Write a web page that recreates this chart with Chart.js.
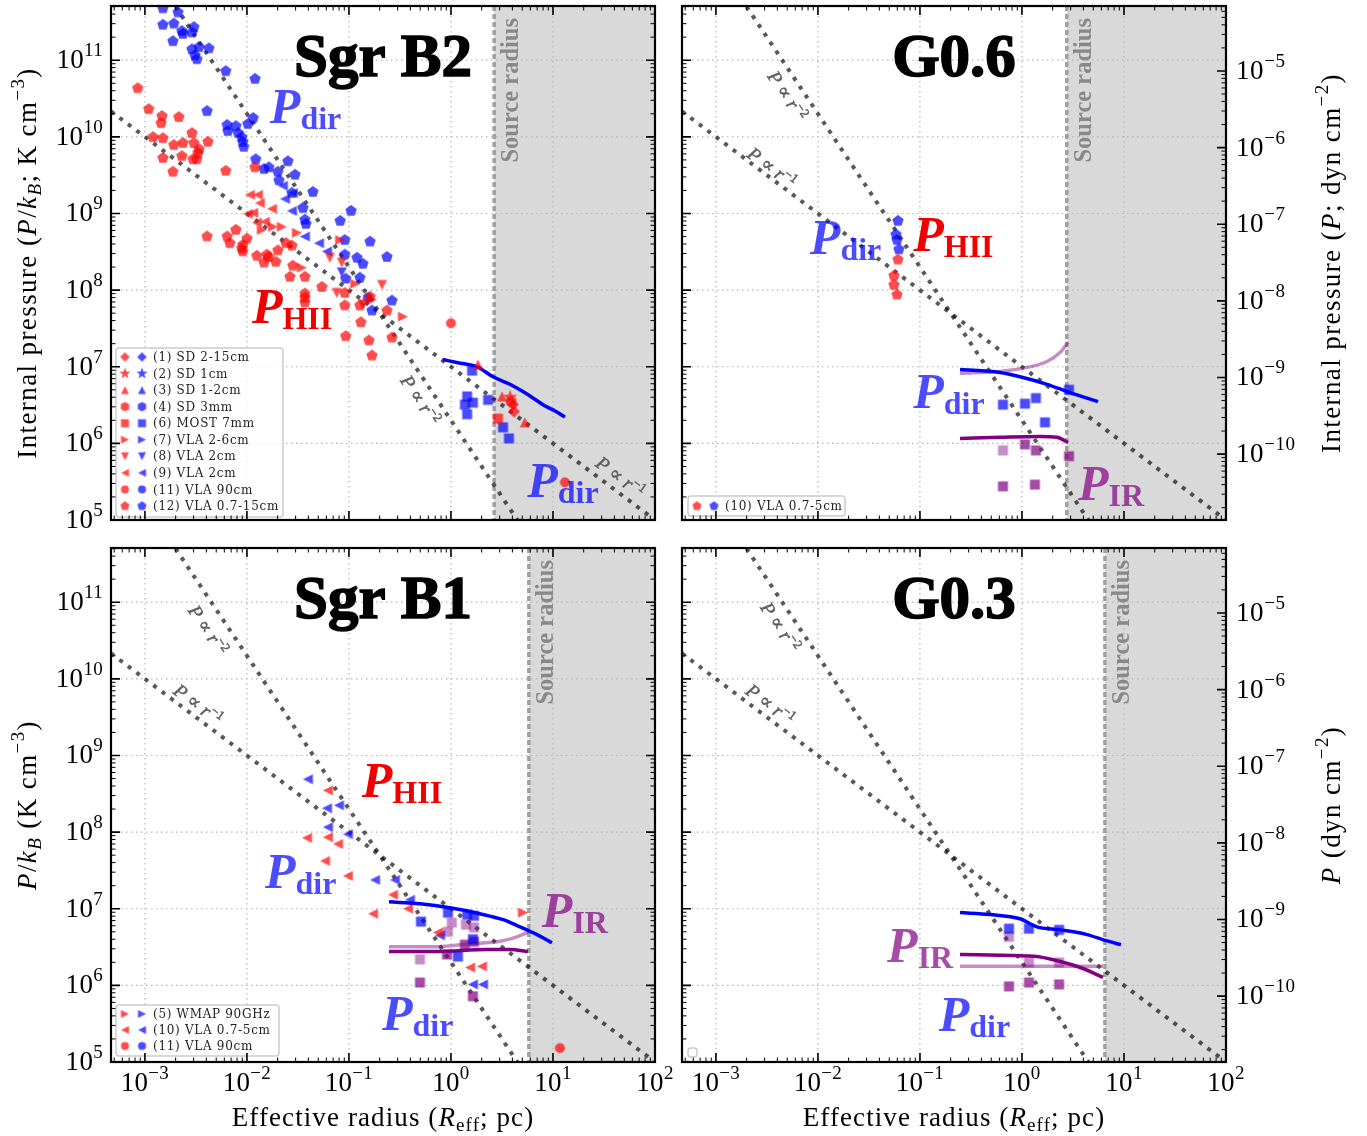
<!DOCTYPE html>
<html>
<head>
<meta charset="utf-8">
<script src="https://cdn.jsdelivr.net/npm/chart.js@4.4.1/dist/chart.umd.min.js"></script>
<style>
  html, body { margin: 0; padding: 0; background: #fff; }
  #wrap { position: relative; width: 1367px; height: 1136px; }
  #wrap canvas { position: absolute; left: 0; top: 0; }
</style>
</head>
<body>
<div id="wrap">
  <canvas id="cB2" width="1367" height="1136"></canvas>
  <canvas id="cG06" width="1367" height="1136"></canvas>
  <canvas id="cB1" width="1367" height="1136"></canvas>
  <canvas id="cG03" width="1367" height="1136"></canvas>
</div>
<script>
// === axis ranges (same for all four panels)
const X_MIN = 4.65e-4, X_MAX = 100;
const Y_MIN = 1e5, Y_MAX = 5.1e11;
const KB = 1.380649e-16;            // P = kB * (P/kB), right-hand axis

// reference power laws, read at the plot edges
const refR = [4.65e-4, 100];
const refP1 = [2.15e10, 1e5];       // P ∝ r^-1
const refP2 = [9.25e12, 200];       // P ∝ r^-2

// source radii (pc)
const srcB2 = 2.65, srcG06 = 2.75, srcB1 = 5.8, srcG03 = 6.5;

// === Sgr B2 : P_HII (red) by survey, [r (pc), P/kB]
const b2HiiVla0715 = [
  [8.5e-4,4.3e10],[1.09e-3,2.3e10],[1.47e-3,1.87e10],[1.44e-3,1.51e10],[2.15e-3,1.81e10],
  [1.2e-3,9.9e9],[1.5e-3,9.6e9],[2.89e-3,1.12e10],[1.92e-3,7.8e9],[2.36e-3,8.3e9],
  [3.02e-3,8.3e9],[3.39e-3,6.9e9],[3.31e-3,6.2e9],[4.15e-3,8.6e9],[1.5e-3,5.3e9],
  [2.3e-3,5.6e9],[2.96e-3,5.1e9],[3.23e-3,5.1e9],[1.88e-3,3.5e9],[6.2e-3,3.6e9],
  [1.2e-2,4.0e9],[4.06e-3,5.0e8],[6.4e-3,5.0e8],[7.8e-3,6.1e8],[6.8e-3,4.1e8],
  [9.1e-3,3.9e8],[8.9e-3,3.5e8],[1.0e-2,4.7e8],[1.25e-2,2.8e8],[1.57e-2,2.9e8],
  [2.01e-2,3.3e8],[2.76e-2,3.8e8],[2.41e-2,4.1e8],[9.1e-3,3.2e8],[1.64e-2,2.7e8],
  [1.47e-2,2.28e8],[1.92e-2,2.34e8],[2.82e-2,2.08e8],[2.64e-2,1.49e8],[3.7e-2,1.49e8],
  [5.43e-2,1.1e8],[3.7e-2,9.0e7],[3.7e-2,8.0e7],[3.7e-2,6.9e7],[9.1e-2,9.2e7],
  [9.1e-2,6.3e7],[0.128,6.3e7],[0.236,5.4e7],[0.131,3.8e7],[9.3e-2,2.5e7],
  [0.157,2.2e7],[0.264,2.4e7],[0.168,1.4e7],[0.161,8.2e7]
];
const b2HiiVla2cmL = [[1.07e-2,1.75e9],[1.28e-2,1.75e9],[1.34e-2,1.37e9],[1.02e-2,9.9e8],
  [1.15e-2,1.02e9],[1.76e-2,1.15e9],[1.25e-2,7.6e8],[1.5e-2,7.8e8]];
const b2HiiVla26 = [[1.4e-2,6.1e8],[1.8e-2,6.7e8],[2.2e-2,6.7e8],[3.09e-2,5.6e8],[8.2e-2,4.5e8],
  [3.46e-2,1.96e8],[0.115,1.21e8],[0.338,4.5e7],[0.168,7.5e7]];
const b2HiiVla2cmD = [[6.5e-2,2.64e8],[8.5e-2,2.28e8],[7.6e-2,9.2e7],[0.211,1.17e8],[0.137,6.5e7]];
const b2HiiVla90 = [[1.0,3.7e7],[13.1,3.1e5]];
const b2HiiSd12 = [[1.84,1.07e7],[3.16,4.1e6],[5.3,1.88e6]];
const b2HiiSd1 = [[3.8,4.0e6]];
const b2HiiSd215 = [[4.05,3.2e6],[4.15,2.6e6]];
const b2HiiSd3mm = [[3.9,3.5e6]];
const b2HiiMost = [[2.89,2.1e6]];

// === Sgr B2 : P_dir (blue)
const b2DirVla0715 = [
  [1.5e-3,4.75e11],[2.11e-3,4.2e11],[1.5e-3,2.9e11],[1.92e-3,3.0e11],[2.3e-3,2.4e11],
  [2.36e-3,2.2e11],[2.89e-3,2.3e11],[3.02e-3,2.7e11],[1.88e-3,1.77e11],[2.89e-3,1.39e11],
  [3.39e-3,1.48e11],[4.24e-3,1.43e11],[3.09e-3,1.16e11],[3.23e-3,1.03e11],[6.2e-3,7.2e10],
  [1.2e-2,5.7e10],[4.06e-3,2.17e10],[6.4e-3,1.43e10],[6.5e-3,1.19e10],[7.8e-3,1.38e10],
  [8.2e-3,1.12e10],[8.9e-3,9.9e9],[9.1e-3,8.6e9],[9.3e-3,7.4e9],[1.02e-2,1.47e10],
  [1.15e-2,1.76e10],[1.22e-2,5.1e9],[1.47e-2,3.8e9],[1.64e-2,4.0e9],[2.01e-2,3.5e9],
  [2.52e-2,4.8e9],[2.96e-2,3.2e9],[2.06e-2,2.7e9],[2.76e-2,1.85e9],[4.43e-2,1.91e9],
  [3.54e-2,1.18e9],[3.7e-2,8.3e8],[3.79e-2,7.3e8],[0.105,1.08e9],[8.2e-2,8.0e8],
  [9.1e-2,4.5e8],[0.12,2.64e8],[0.161,4.3e8],[0.236,2.7e8],[9.1e-2,2.9e8],
  [0.137,2.2e8],[9.3e-2,1.41e8],[0.128,1.45e8],[0.264,7.3e7],[0.168,5.4e7]
];
const b2DirVla2cmL = [[2.25e-2,2.3e9],[2.36e-2,1.55e9],[2.82e-2,1.85e9],[2.76e-2,1.08e9],
  [3.7e-2,5.0e8],[5.08e-2,4.1e8],[6.09e-2,3.2e8]];
const b2DirVla2cmD = [[8.5e-2,1.7e8]];
const b2DirVla90 = [[0.153,8.0e7]];
const b2DirMost = [[1.61,8.9e6],[1.44,4.1e6],[1.37,3.2e6],[1.64,3.4e6],[1.44,2.4e6],
  [2.31,3.7e6],[3.24,1.62e6],[3.7,1.16e6]];
const b2ModelR = [0.835, 1.17, 1.8, 2.58, 3.79, 5.56, 7.98, 10.7, 13.1];
const b2ModelDir = [1.24e7, 1.13e7, 1.0e7, 7.4e6, 5.9e6, 4.4e6, 3.2e6, 2.6e6, 2.2e6];

// === G0.6
const g06Hii = [[0.0609,2.5e8],[0.0556,1.54e8],[0.0556,1.17e8],[0.0596,8.7e7]];
const g06Dir = [[0.0609,8.0e8],[0.0582,5.3e8],[0.0596,4.5e8],[0.0622,3.4e8]];
const g06DirSq = [[0.651,3.2e6],[1.07,3.3e6],[1.37,3.9e6],[1.68,1.88e6],[2.89,5.0e6]];
const g06IrSq = [[1.07,9.7e5],[1.37,8.1e5],[2.89,6.8e5],[0.651,2.75e5],[1.34,2.9e5]];
const g06IrSqLight = [[0.651,8.1e5]];
const g06DirR = [0.247, 0.608, 0.955, 1.76, 2.96, 5.56];
const g06DirP = [9.2e6, 8.4e6, 7.4e6, 5.9e6, 4.6e6, 3.5e6];
const g06IrLightR = [0.247, 0.608, 1.12, 1.76, 2.36, 2.83];
const g06IrLightP = [8.2e6, 8.7e6, 9.8e6, 1.17e7, 1.53e7, 2.07e7];
const g06IrR = [0.247, 0.608, 1.5, 2.2, 2.83];
const g06IrP = [1.16e6, 1.2e6, 1.23e6, 1.2e6, 1.03e6];

// === Sgr B1
const b1HiiVla = [[0.0622,3.5e8],[0.0388,8.4e7],[0.0622,8.6e7],[0.078,7.0e7],[0.0582,4.2e7],
  [0.0977,2.68e7],[0.27,1.52e7],[0.172,8.6e6],[0.379,1.0e7],[0.746,4.9e6],[1.54,1.71e6],[2.01,1.77e6]];
const b1DirVla = [[0.0396,4.9e8],[0.0609,2.05e8],[0.0798,2.24e8],[0.0622,1.16e8],[0.0977,9.4e7],
  [0.18,2.38e7],[0.282,2.38e7],[0.396,1.31e7],[0.78,4.5e6],[1.64,1.03e6],[2.06,1.03e6]];
const b1HiiWmap = [[5.08,8.9e6]];
const b1HiiVla90 = [[11.7,1.52e5]];
const b1DirSq = [[0.508,6.8e6],[0.935,8.9e6],[1.44,8.4e6],[1.68,8.1e6],[1.17,2.38e6],[1.64,4.0e6]];
const b1IrSqLight = [[1.02,6.6e6],[0.935,5.0e6],[1.4,6.2e6],[0.497,2.18e6],[1.68,5.7e6]];
const b1IrSq = [[1.68,3.7e6],[0.914,2.53e6],[1.37,3.4e6],[0.497,1.09e6],[1.64,7.2e5]];
const b1DirR = [0.247, 0.497, 0.978, 1.92, 3.24, 4.75, 6.97, 9.77];
const b1DirP = [1.23e7, 1.16e7, 1.03e7, 8.6e6, 7.2e6, 5.8e6, 4.6e6, 3.6e6];
const b1IrLightR = [0.247, 0.73, 1.54, 2.83, 4.43, 5.69];
const b1IrLightP = [3.2e6, 3.2e6, 3.5e6, 3.7e6, 4.3e6, 4.9e6];
const b1IrR = [0.247, 0.73, 2.25, 3.79, 5.69];
const b1IrP = [2.77e6, 2.77e6, 2.94e6, 2.94e6, 2.77e6];

// === G0.3
const g03DirSq = [[0.746,5.5e6],[1.17,5.5e6],[2.31,5.3e6]];
const g03IrSqLight = [[0.746,4.3e6],[1.17,1.99e6],[2.31,1.99e6]];
const g03IrSq = [[0.746,9.7e5],[1.17,1.09e6],[2.31,1.03e6]];
const g03DirR = [0.247, 0.485, 0.955, 1.4, 2.36, 4.34, 6.81, 9.35];
const g03DirP = [8.9e6, 8.4e6, 7.4e6, 5.8e6, 5.3e6, 4.6e6, 3.8e6, 3.4e6];
const g03IrR = [0.247, 0.817, 1.4, 2.36, 3.96, 6.22];
const g03IrP = [2.53e6, 2.45e6, 2.38e6, 2.05e6, 1.66e6, 1.27e6];
const g03IrLightR = [0.247, 6.22];
const g03IrLightP = [1.77e6, 1.77e6];

// === styles
const SERIF = '"Liberation Serif", "DejaVu Serif", serif';
const RED = 'rgba(255,0,0,0.7)', BLUE = 'rgba(0,0,255,0.7)';
const PURPLE = 'rgba(128,0,128,0.7)', LPURPLE = 'rgba(128,0,128,0.45)';
const MSIZE = { pentagon: 6, hexagon: 6, star: 7.5, diamond: 6, square: 5, circle: 5,
  'tri-up': 5, 'tri-down': 5, 'tri-left': 5, 'tri-right': 5 };
const AX = 27, AXS = 19;            // axis text and its sub/superscripts

function makeMarker(shape, color, r) {
  const s = Math.ceil(r * 2.6 + 4);
  const c = document.createElement('canvas');
  c.width = c.height = s;
  const g = c.getContext('2d');
  g.translate(s / 2, s / 2);
  g.fillStyle = color;
  g.beginPath();
  if (shape === 'circle') g.arc(0, 0, r, 0, Math.PI * 2);
  else if (shape === 'square') g.rect(-r, -r, 2 * r, 2 * r);
  else if (shape === 'diamond') { g.moveTo(0, -r); g.lineTo(r, 0); g.lineTo(0, r); g.lineTo(-r, 0); }
  else if (shape.startsWith('tri')) {
    const pts = { up: [[0,-1],[-1,1],[1,1]], down: [[0,1],[-1,-1],[1,-1]],
      left: [[-1,0],[1,-1],[1,1]], right: [[1,0],[-1,-1],[-1,1]] }[shape.slice(4)];
    pts.forEach(([px, py], i) => i ? g.lineTo(px * r, py * r) : g.moveTo(px * r, py * r));
  } else if (shape === 'star') {
    for (let i = 0; i < 10; i++) {
      const a = -Math.PI / 2 + i * Math.PI / 5, rr = i % 2 ? r * 0.4 : r;
      g.lineTo(rr * Math.cos(a), rr * Math.sin(a));
    }
  } else {
    const n = shape === 'pentagon' ? 5 : 6;
    for (let i = 0; i < n; i++) {
      const a = -Math.PI / 2 + i * 2 * Math.PI / n;
      g.lineTo(r * Math.cos(a), r * Math.sin(a));
    }
  }
  g.closePath();
  g.fill();
  return c;
}

const toXY = list => list.map(([r, p]) => ({ x: r, y: p }));
const zipXY = (rs, ps) => rs.map((r, i) => ({ x: r, y: ps[i] }));

function pointsSet(list, shape, color) {
  return { data: toXY(list), pointStyle: makeMarker(shape, color, MSIZE[shape]),
    pointRadius: 5, showLine: false, order: 0 };
}
function curveSet(rs, ps, color) {
  return { data: zipXY(rs, ps), showLine: true, borderColor: color, borderWidth: 3.5,
    pointRadius: 0, cubicInterpolationMode: 'monotone', order: 1 };
}
function refSets() {
  return [refP1, refP2].map(ps => ({ data: zipXY(refR, ps), showLine: true,
    borderColor: 'rgba(0,0,0,0.65)', borderWidth: 4, borderDash: [4, 6.6], borderCapStyle: 'butt',
    pointRadius: 0, order: 2 }));
}

// === text helpers
function font(style, size) { return (style ? style + ' ' : '') + size + 'px ' + SERIF; }
function drawRuns(ctx, runs, x, y, align, spacing) {
  ctx.letterSpacing = (spacing || 0) + 'px';
  let w = 0;
  runs.forEach(r => { ctx.font = font(r[1], r[2]); w += ctx.measureText(r[0]).width; });
  let cx = align === 'center' ? x - w / 2 : align === 'right' ? x - w : x;
  ctx.textAlign = 'left';
  ctx.textBaseline = 'alphabetic';
  runs.forEach(r => {
    ctx.font = font(r[1], r[2]);
    ctx.fillText(r[0], cx, y + (r[3] || 0));
    if (ctx.lineWidth > 0 && r[4]) ctx.strokeText(r[0], cx, y + (r[3] || 0));
    cx += ctx.measureText(r[0]).width;
  });
  ctx.letterSpacing = '0px';
}
const expStr = e => e < 0 ? '\u2212' + (-e) : String(e);
const tenRuns = e => [['10', '', AX, 0], [expStr(e), '', AXS, -12]];

function logTicks(min, max) {
  const major = [], minor = [];
  for (let e = Math.floor(Math.log10(min)); e <= Math.ceil(Math.log10(max)); e++) {
    for (let k = 1; k < 10; k++) {
      const v = k * Math.pow(10, e);
      if (v < min * 0.9999 || v > max * 1.0001) continue;
      (k === 1 ? major : minor).push(v);
    }
  }
  return { major, minor };
}

const P_LABEL = {
  dir: { color: BLUE, sub: 'dir' },
  HII: { color: 'rgb(240,0,0)', sub: 'HII' },
  IR: { color: PURPLE, sub: 'IR' }
};

const xTitle = [['Effective radius (', '', AX, 0], ['R', 'italic', AX, 0], ['eff', '', AXS, 5], ['; pc)', '', AX, 0]];

function makeDecor(p) {
  return {
    id: 'decor',
    beforeDatasetsDraw(chart) {
      const { ctx, chartArea: a, scales: { x, y } } = chart;
      const xs = x.getPixelForValue(p.srcR);
      ctx.save();
      ctx.fillStyle = '#d9d9d9';
      ctx.fillRect(xs, a.top, a.right - xs, a.bottom - a.top);

      // dotted grid at the decades
      ctx.strokeStyle = '#b5b5b5';
      ctx.lineWidth = 1.2;
      ctx.setLineDash([1.5, 3.5]);
      ctx.beginPath();
      logTicks(X_MIN, X_MAX).major.forEach(v => {
        const px = x.getPixelForValue(v);
        if (px > a.left + 2 && px < a.right - 2) { ctx.moveTo(px, a.top); ctx.lineTo(px, a.bottom); }
      });
      logTicks(Y_MIN, Y_MAX).major.forEach(v => {
        const py = y.getPixelForValue(v);
        if (py > a.top + 2 && py < a.bottom - 2) { ctx.moveTo(a.left, py); ctx.lineTo(a.right, py); }
      });
      ctx.stroke();

      // source radius
      ctx.setLineDash([5, 3]);
      ctx.strokeStyle = '#a0a0a0';
      ctx.lineWidth = 3.5;
      ctx.beginPath();
      ctx.moveTo(xs, a.top);
      ctx.lineTo(xs, a.bottom);
      ctx.stroke();
      ctx.setLineDash([]);
      ctx.fillStyle = '#888';
      ctx.translate(xs + 24, a.top + 12);
      ctx.rotate(-Math.PI / 2);
      ctx.lineWidth = 0;
      drawRuns(ctx, [['Source radius', 'bold', 24.5, 0]], 0, 0, 'right');
      ctx.restore();
    },
    afterDatasetsDraw(chart) {
      const { ctx, chartArea: a, scales: { x, y, y2 } } = chart;
      const W = a.right - a.left, H = a.bottom - a.top;
      const fx = f => a.left + f * W, fy = f => a.top + f * H;
      ctx.save();

      // P ∝ r^-n labels along the guide lines
      p.refLab.forEach(([n, u, v]) => {
        const ps = n === 1 ? refP1 : refP2;
        const ang = Math.atan2(y.getPixelForValue(ps[1]) - y.getPixelForValue(ps[0]),
          x.getPixelForValue(refR[1]) - x.getPixelForValue(refR[0]));
        ctx.save();
        ctx.translate(fx(u), fy(v));
        ctx.rotate(ang);
        ctx.fillStyle = '#5e5e5e';
        ctx.strokeStyle = '#5e5e5e';
        ctx.lineWidth = 0.5;
        drawRuns(ctx, [['P', 'italic', 19, 0, 1], [' \u221D ', '', 19, 0, 1], ['r', 'italic', 19, 0, 1],
          ['\u2212' + n, '', 13, -7, 1]], 0, 6, 'center');
        ctx.restore();
      });

      // big P labels
      ctx.lineWidth = 0;
      p.labels.forEach(([k, u, v]) => {
        ctx.fillStyle = P_LABEL[k].color;
        drawRuns(ctx, [['P', 'bold italic', 50, 0], [P_LABEL[k].sub, 'bold', 32, 6]], fx(u), fy(v), 'left');
      });

      // title (a thin stroke makes it as heavy as the original)
      ctx.fillStyle = '#000';
      ctx.strokeStyle = '#000';
      ctx.lineWidth = 1.6;
      drawRuns(ctx, [[p.title, 'bold', 61, 0, 1]], fx(0.5), a.top + 70, 'center');

      // legend
      if (p.legend) {
        const L = p.legend, x0 = a.left + L.dx, y0 = a.top + L.dy;
        ctx.fillStyle = 'rgba(255,255,255,0.8)';
        ctx.strokeStyle = '#cccccc';
        ctx.lineWidth = 1.5;
        ctx.beginPath();
        ctx.roundRect(x0, y0, L.w, L.h, 3);
        ctx.fill();
        ctx.stroke();
        L.rows.forEach(([txt, shape], i) => {
          const cy = y0 + L.first + i * L.step;
          [[RED, 9], [BLUE, 26]].forEach(([col, dx]) => {
            const m = makeMarker(shape, col, MSIZE[shape] * 0.8);
            ctx.drawImage(m, x0 + dx - m.width / 2, cy - m.height / 2);
          });
          ctx.fillStyle = '#222';
          ctx.font = '12px "DejaVu Serif", serif';
          ctx.letterSpacing = '0.7px';
          ctx.textAlign = 'left';
          ctx.textBaseline = 'middle';
          ctx.fillText(txt, x0 + 37, cy + 1);
          ctx.letterSpacing = '0px';
        });
      }

      // ticks (inward, all four sides) and frame
      ctx.strokeStyle = '#000';
      const xt = logTicks(X_MIN, X_MAX), yt = logTicks(Y_MIN, Y_MAX);
      const y2t = logTicks(Y_MIN * KB, Y_MAX * KB);
      const tick = (vals, len, lw) => {
        ctx.lineWidth = lw;
        ctx.beginPath();
        vals.x.forEach(v => {
          const px = x.getPixelForValue(v);
          ctx.moveTo(px, a.bottom); ctx.lineTo(px, a.bottom - len);
          ctx.moveTo(px, a.top); ctx.lineTo(px, a.top + len);
        });
        vals.yl.forEach(v => { const py = y.getPixelForValue(v); ctx.moveTo(a.left, py); ctx.lineTo(a.left + len, py); });
        vals.yr.forEach(v => {
          const py = p.yRight ? y2.getPixelForValue(v) : y.getPixelForValue(v);
          ctx.moveTo(a.right, py); ctx.lineTo(a.right - len, py);
        });
        ctx.stroke();
      };
      tick({ x: xt.major, yl: yt.major, yr: p.yRight ? y2t.major : yt.major }, 9, 1.6);
      tick({ x: xt.minor, yl: yt.minor, yr: p.yRight ? y2t.minor : yt.minor }, 4.5, 1);
      ctx.lineWidth = 2.2;
      ctx.strokeRect(a.left, a.top, W, H);

      // tick labels
      ctx.fillStyle = '#000';
      ctx.lineWidth = 0;
      if (p.xLabels) xt.major.forEach(v => drawRuns(ctx, tenRuns(Math.round(Math.log10(v))), x.getPixelForValue(v), a.bottom + 29, 'center', 0.3));
      if (p.yLeft) yt.major.forEach(v => drawRuns(ctx, tenRuns(Math.round(Math.log10(v))), a.left - 8, y.getPixelForValue(v) + 8, 'right', 0.3));
      if (p.yRight) y2t.major.forEach(v => drawRuns(ctx, tenRuns(Math.round(Math.log10(v))), a.right + 10, y2.getPixelForValue(v) + 8, 'left', 0.6));

      // axis titles
      if (p.xLabels) drawRuns(ctx, xTitle, fx(0.5), a.bottom + 64, 'center', 1.1);
      if (p.yTitle) {
        ctx.save();
        ctx.translate(p.yRight ? a.right + 114 : 36, fy(0.5));
        ctx.rotate(-Math.PI / 2);
        drawRuns(ctx, p.yTitle, 0, 0, 'center', 1.4);
        ctx.restore();
      }
      ctx.restore();
    }
  };
}

const legendB2 = { dx: 5, dy: 342, w: 167, h: 169, first: 9, step: 16.55, rows: [
  ['(1) SD 2-15cm', 'diamond'], ['(2) SD 1cm', 'star'], ['(3) SD 1-2cm', 'tri-up'],
  ['(4) SD 3mm', 'hexagon'], ['(6) MOST 7mm', 'square'], ['(7) VLA 2-6cm', 'tri-right'],
  ['(8) VLA 2cm', 'tri-down'], ['(9) VLA 2cm', 'tri-left'], ['(11) VLA 90cm', 'circle'],
  ['(12) VLA 0.7-15cm', 'pentagon']] };
const legendG06 = { dx: 6, dy: 490, w: 157, h: 20, first: 10, step: 16, rows: [['(10) VLA 0.7-5cm', 'pentagon']] };
const legendB1 = { dx: 5, dy: 457, w: 163, h: 51, first: 9, step: 16, rows: [
  ['(5) WMAP 90GHz', 'tri-right'], ['(10) VLA 0.7-5cm', 'tri-left'], ['(11) VLA 90cm', 'circle']] };
const legendG03 = { dx: 6, dy: 500, w: 9, h: 9, first: 0, step: 0, rows: [] };

const panels = [
  {
    id: 'cB2', pad: { left: 111, top: 5, right: 712, bottom: 616 }, title: 'Sgr B2', srcR: srcB2,
    sets: [
      pointsSet(b2HiiVla0715, 'pentagon', RED), pointsSet(b2HiiVla2cmL, 'tri-left', RED),
      pointsSet(b2HiiVla26, 'tri-right', RED), pointsSet(b2HiiVla2cmD, 'tri-down', RED),
      pointsSet(b2HiiVla90, 'circle', RED), pointsSet(b2HiiSd12, 'tri-up', RED),
      pointsSet(b2HiiSd1, 'star', RED), pointsSet(b2HiiSd215, 'diamond', RED),
      pointsSet(b2HiiSd3mm, 'hexagon', RED), pointsSet(b2HiiMost, 'square', RED),
      pointsSet(b2DirVla0715, 'pentagon', BLUE), pointsSet(b2DirVla2cmL, 'tri-left', BLUE),
      pointsSet(b2DirVla2cmD, 'tri-down', BLUE), pointsSet(b2DirVla90, 'circle', BLUE),
      pointsSet(b2DirMost, 'square', BLUE),
      curveSet(b2ModelR, b2ModelDir, '#0000ff')
    ],
    labels: [['dir', 0.292, 0.227], ['HII', 0.259, 0.617], ['dir', 0.765, 0.955]],
    refLab: [[2, 0.568, 0.767], [1, 0.936, 0.917]],
    legend: legendB2, xLabels: false, yLeft: true, yRight: false,
    yTitle: [['Internal pressure (', '', AX, 0], ['P', 'italic', AX, 0], ['/', '', AX, 0], ['k', 'italic', AX, 0],
      ['B', 'italic', AXS, 5], ['; K cm', '', AX, 0], ['\u22123', '', AXS, -12], [')', '', AX, 0]]
  },
  {
    id: 'cG06', pad: { left: 682, top: 5, right: 141, bottom: 616 }, title: 'G0.6', srcR: srcG06,
    sets: [
      pointsSet(g06Hii, 'pentagon', RED), pointsSet(g06Dir, 'pentagon', BLUE),
      pointsSet(g06DirSq, 'square', BLUE), pointsSet(g06IrSq, 'square', PURPLE),
      pointsSet(g06IrSqLight, 'square', LPURPLE),
      curveSet(g06DirR, g06DirP, '#0000ff'), curveSet(g06IrLightR, g06IrLightP, LPURPLE),
      curveSet(g06IrR, g06IrP, '#800080')
    ],
    labels: [['dir', 0.235, 0.482], ['HII', 0.425, 0.476], ['dir', 0.425, 0.783], ['IR', 0.728, 0.961]],
    refLab: [[2, 0.193, 0.175], [1, 0.165, 0.315]],
    legend: legendG06, xLabels: false, yLeft: false, yRight: true,
    yTitle: [['Internal pressure (', '', AX, 0], ['P', 'italic', AX, 0], ['; dyn cm', '', AX, 0],
      ['\u22122', '', AXS, -12], [')', '', AX, 0]]
  },
  {
    id: 'cB1', pad: { left: 111, top: 548, right: 712, bottom: 74 }, title: 'Sgr B1', srcR: srcB1,
    sets: [
      pointsSet(b1HiiVla, 'tri-left', RED), pointsSet(b1DirVla, 'tri-left', BLUE),
      pointsSet(b1HiiWmap, 'tri-right', RED), pointsSet(b1HiiVla90, 'circle', RED),
      pointsSet(b1DirSq, 'square', BLUE), pointsSet(b1IrSqLight, 'square', LPURPLE),
      pointsSet(b1IrSq, 'square', PURPLE),
      curveSet(b1DirR, b1DirP, '#0000ff'), curveSet(b1IrLightR, b1IrLightP, LPURPLE),
      curveSet(b1IrR, b1IrP, '#800080')
    ],
    labels: [['HII', 0.461, 0.484], ['dir', 0.283, 0.661], ['IR', 0.792, 0.737], ['dir', 0.498, 0.938]],
    refLab: [[2, 0.178, 0.16], [1, 0.16, 0.305]],
    legend: legendB1, xLabels: true, yLeft: true, yRight: false,
    yTitle: [['P', 'italic', AX, 0], ['/', '', AX, 0], ['k', 'italic', AX, 0], ['B', 'italic', AXS, 5],
      [' (K cm', '', AX, 0], ['\u22123', '', AXS, -12], [')', '', AX, 0]]
  },
  {
    id: 'cG03', pad: { left: 682, top: 548, right: 141, bottom: 74 }, title: 'G0.3', srcR: srcG03,
    sets: [
      pointsSet(g03DirSq, 'square', BLUE), pointsSet(g03IrSqLight, 'square', LPURPLE),
      pointsSet(g03IrSq, 'square', PURPLE),
      curveSet(g03DirR, g03DirP, '#0000ff'), curveSet(g03IrR, g03IrP, '#800080'),
      curveSet(g03IrLightR, g03IrLightP, LPURPLE)
    ],
    labels: [['IR', 0.377, 0.805], ['dir', 0.472, 0.94]],
    refLab: [[2, 0.18, 0.154], [1, 0.162, 0.305]],
    legend: legendG03, xLabels: true, yLeft: false, yRight: true,
    yTitle: [['P', 'italic', AX, 0], [' (dyn cm', '', AX, 0], ['\u22122', '', AXS, -12], [')', '', AX, 0]]
  }
];

panels.forEach(p => {
  new Chart(document.getElementById(p.id), {
    type: 'scatter',
    data: { datasets: p.sets.concat(refSets()) },
    options: {
      responsive: false,
      animation: false,
      devicePixelRatio: 1,
      events: [],
      layout: { padding: p.pad },
      plugins: { legend: { display: false }, tooltip: { enabled: false } },
      scales: {
        x: { type: 'logarithmic', min: X_MIN, max: X_MAX, display: false },
        y: { type: 'logarithmic', min: Y_MIN, max: Y_MAX, display: false },
        y2: { type: 'logarithmic', position: 'right', min: Y_MIN * KB, max: Y_MAX * KB, display: false }
      }
    },
    plugins: [makeDecor(p)]
  });
});
</script>
</body>
</html>
